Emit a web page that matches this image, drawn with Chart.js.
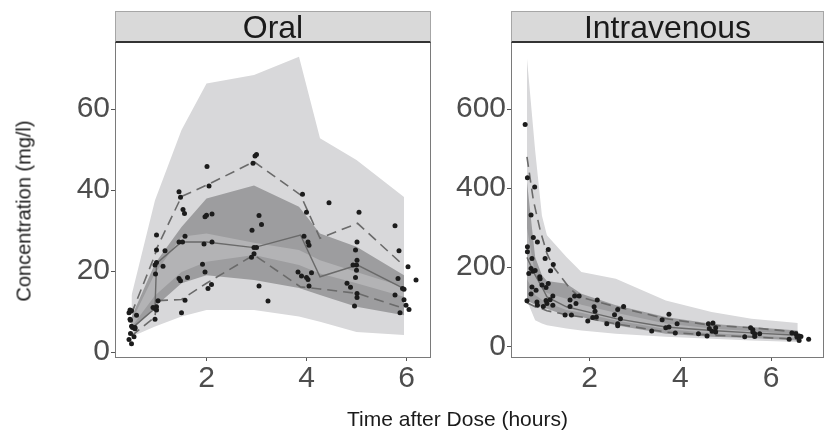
<!DOCTYPE html>
<html>
<head>
<meta charset="utf-8">
<script src="https://cdn.jsdelivr.net/npm/chart.js@4.4.0/dist/chart.umd.min.js"></script>
<style>
  body { margin: 0; width: 824px; height: 430px; overflow: hidden; position: relative; background: #fff;
         font-family: 'Liberation Sans', Arial, sans-serif; }
  canvas { position: absolute; top: 0; }
  .strip { position: absolute; top: 11px; height: 32px; box-sizing: border-box; background: #d9d9d9;
           border: 1px solid #a6a6a6; border-bottom: 2px solid #333; text-align: center;
           font-size: 32px; line-height: 30px; color: #1a1a1a; }
  .frame { position: absolute; top: 43px; height: 315px; box-sizing: border-box;
           border: 1px solid #7a7a7a; border-top: none; pointer-events: none; }
  .title { position: absolute; color: #1a1a1a; white-space: nowrap; }
</style>
</head>
<body>
<canvas id="oralChart" width="440" height="430" style="left:0"></canvas>
<canvas id="ivChart" width="384" height="430" style="left:440px"></canvas>
<div class="strip" style="left:115px;width:316px">Oral</div>
<div class="strip" style="left:511px;width:313px">Intravenous</div>
<div class="frame" style="left:115px;width:316px"></div>
<div class="frame" style="left:511px;width:313px"></div>
<div class="title" style="left:0;top:418px;width:915px;text-align:center;font-size:21px;line-height:21px;transform:translateY(-50%)">Time after Dose (hours)</div>
<div class="title" style="left:24px;top:211px;font-size:20px;transform:translate(-50%,-50%) rotate(-90deg)">Concentration (mg/l)</div>
<script>
// ---- Oral panel ----
const oralBinTimes   = [0.5, 0.97, 1.5, 2.0, 2.95, 3.85, 4.27, 5.0, 5.95];
const oralOuterHigh  = [14, 37.5, 54.8, 66.3, 68.4, 72.9, 52.8, 47.4, 38.3];
const oralOuterLow   = [3.8, 6.3, 8.8, 10.4, 10.4, 8.8, 7.5, 5.0, 4.2];
const oralDarkHigh   = [8.7, 21.9, 30.9, 37.9, 41.1, 35.9, 29.3, 26.0, 19.0];
const oralDarkLow    = [5.4, 11.2, 17.0, 19.0, 17.8, 15.8, 14.1, 11.2, 9.1];
const oralMidHigh    = [7.6, 19.5, 28.5, 29.3, 27.0, 25.2, 22.7, 19.8, 16.1];
const oralMidLow     = [6.2, 14.0, 19.8, 22.3, 24.0, 21.5, 19.4, 17.0, 13.7];

const oralObsTimes   = [0.5, 0.97, 1.0, 1.5, 2.0, 2.95, 3.88, 4.27, 5.02, 5.95];
const oralObsMedian  = [5.8, 10.8, 21.9, 27.2, 27.2, 25.8, 28.9, 18.6, 21.5, 15.7];
const oralObsHigh    = [9.5, 24.0, 25.5, 38.4, 41.2, 47.0, 38.8, 28.1, 31.8, 21.3];
const oralObsLow     = [4.0, 8.7, 12.7, 13.0, 17.0, 24.0, 16.1, 15.6, 14.5, 10.8];

const oralTime = [0.45, 0.5, 0.6, 0.48, 0.5, 0.52, 0.57, 0.48, 0.55, 0.45, 0.5, 0.47, 0.47, 0.57,
  1.0, 1.0, 1.17, 0.97, 1.0, 1.13, 0.98, 1.0, 0.93, 0.97, 1.0, 0.97, 1.03,
  1.45, 1.48, 1.53, 1.56, 1.45, 1.52, 1.57, 1.45, 1.48, 1.62, 1.57, 1.5,
  2.01, 2.05, 1.97, 2.0, 2.11, 1.95, 2.11, 1.92, 1.97, 2.1, 2.03,
  2.97, 3.0, 2.93, 3.05, 3.1, 2.91, 2.95, 3.0, 2.95, 2.9, 3.05, 3.23,
  3.92, 4.0, 4.45, 3.95, 4.03, 4.05, 3.83, 3.9, 4.0, 4.03, 4.1, 4.05,
  5.05, 5.01, 4.98, 5.01, 5.0, 4.93, 5.0, 4.98, 4.81, 4.88, 5.01, 5.01, 4.96,
  5.77, 5.85, 6.03, 6.19, 5.83, 5.92, 5.95, 5.77, 5.95, 5.99, 6.05, 5.87];
const oralConc = [9.7, 10.2, 9.1, 7.9, 6.4, 6.1, 6.1, 4.6, 3.8, 3.1, 2.1, 10.4, 8.1, 5.8,
  28.9, 25.2, 25.0, 21.5, 22.1, 21.2, 19.3, 11.2, 11.0, 10.8, 10.4, 8.1, 12.7,
  39.6, 38.2, 35.2, 34.2, 27.2, 27.2, 28.6, 18.2, 17.6, 18.4, 12.8, 9.7,
  45.8, 41.0, 33.4, 33.8, 34.1, 26.7, 27.2, 21.7, 19.8, 16.7, 15.7,
  48.4, 48.8, 46.6, 33.7, 31.5, 30.1, 25.8, 25.8, 24.3, 23.4, 16.3, 12.6,
  39.0, 34.5, 36.9, 28.6, 27.2, 26.4, 19.8, 18.8, 18.4, 17.9, 19.6, 16.3,
  34.5, 27.2, 25.2, 22.7, 21.5, 21.5, 20.2, 18.4, 17.0, 16.0, 14.5, 13.5, 11.4,
  31.2, 25.0, 21.1, 17.8, 18.2, 15.7, 15.5, 14.1, 12.9, 11.6, 10.5, 9.7];

// ---- Intravenous panel ----
const ivBinTimes   = [0.62, 0.8, 0.95, 1.06, 1.49, 1.82, 2.58, 3.68, 4.69, 5.57, 6.59];
const ivOuterHigh  = [728, 496, 330, 281, 226, 188, 171, 116, 87, 70, 59];
const ivOuterLow   = [116, 66, 58, 53, 45, 40, 32, 24, 19, 15, 11];
const ivDarkHigh   = [416, 226, 180, 165, 158, 133, 104, 74, 57, 49, 40];
const ivDarkLow    = [116, 105, 100, 95, 78, 74, 53, 32, 24, 21, 15];
const ivMidHigh    = [300, 180, 145, 135, 120, 105, 85, 58, 45, 38, 30];
const ivMidLow     = [170, 130, 118, 110, 92, 85, 65, 44, 33, 28, 21];

const ivObsMedian  = [225, 180, 150, 125, 100, 91, 70, 49, 40, 34, 28];
const ivObsLow     = [110, 100, 95, 90, 80, 74, 57, 36, 28, 24, 18];
const ivHighTimes  = [0.62, 0.76, 0.91, 1.06, 1.2, 1.57, 1.78, 2.58, 3.68, 4.69, 5.57, 6.59];
const ivObsHigh    = [479, 370, 294, 235, 201, 146, 125, 100, 70, 53, 47, 36];

const ivTime = [0.58, 0.63, 0.79, 0.71, 0.76, 0.85, 0.63, 0.63, 0.73, 0.66, 0.71, 0.75, 0.8, 0.9, 0.91,
  0.73, 0.71, 0.62, 0.82, 0.84, 0.85, 0.98, 0.95, 1.04, 1.09, 1.02, 1.09, 1.2, 1.14, 1.04, 1.06,
  1.19, 1.19, 1.13, 1.46, 1.57, 1.57, 1.6, 1.67, 1.7, 1.77, 1.96, 2.07, 2.15, 2.1, 2.12, 2.17,
  2.38, 2.55, 2.62, 2.62, 2.62, 2.68, 2.75, 3.37, 3.6, 3.68, 3.75, 3.75, 3.89, 3.93,
  4.4, 4.59, 4.62, 4.72, 4.64, 4.7, 4.78, 4.78, 5.42, 5.55, 5.6, 5.64, 5.64, 5.75, 5.6,
  6.4, 6.46, 6.55, 6.57, 6.62, 6.66, 6.62, 6.83];
const ivConc = [561, 426, 403, 332, 275, 264, 252, 239, 222, 184, 197, 190, 192, 176, 171,
  150, 132, 115, 142, 112, 104, 101, 155, 149, 159, 222, 245, 207, 191, 116, 108,
  104, 127, 118, 79, 101, 117, 79, 127, 108, 127, 64, 73, 74, 100, 89, 117,
  57, 80, 93, 57, 52, 70, 101, 39, 67, 47, 81, 49, 34, 57,
  32, 26, 57, 59, 45, 38, 47, 36, 24, 47, 42, 32, 25, 32, 36,
  18, 34, 32, 24, 26, 25, 15, 18];

const OUTER_FILL = '#d8d8da';
const DARK_FILL = '#9d9d9f';
const MID_FILL = '#b3b3b5';
const LINE_COLOR = '#6a6a6a';
const NONE = 'rgba(0,0,0,0)';

function toPoints(xs, ys) {
  return xs.map((x, i) => ({ x: x, y: ys[i] }));
}

function band(times, high, low, color, order) {
  return [
    { data: toPoints(times, high), fill: '+1', backgroundColor: color, borderColor: NONE,
      borderWidth: 0, pointRadius: 0, order: order },
    { data: toPoints(times, low), fill: false, borderColor: NONE,
      borderWidth: 0, pointRadius: 0, order: order }
  ];
}

function obsLine(times, values, dashed) {
  return { data: toPoints(times, values), fill: false, borderColor: LINE_COLOR,
    borderWidth: dashed ? 1.6 : 1.4, borderDash: dashed ? [10, 6] : [], pointRadius: 0, order: 1 };
}

function makeChart(id, cfg) {
  const datasets = [
    { data: toPoints(cfg.ptTime, cfg.ptConc), showLine: false, pointRadius: 2.5,
      pointBackgroundColor: '#1c1c1c', pointBorderWidth: 0, order: 0 },
    obsLine(cfg.obsTimes, cfg.median, false),
    obsLine(cfg.highTimes, cfg.high, true),
    obsLine(cfg.obsTimes, cfg.low, true),
    ...band(cfg.binTimes, cfg.midHigh, cfg.midLow, MID_FILL, 2),
    ...band(cfg.binTimes, cfg.darkHigh, cfg.darkLow, DARK_FILL, 3),
    ...band(cfg.binTimes, cfg.outerHigh, cfg.outerLow, OUTER_FILL, 4)
  ];
  const tickFont = { family: "'Liberation Sans', Arial, sans-serif", size: 30 };
  return new Chart(document.getElementById(id), {
    type: 'line',
    data: { datasets: datasets },
    options: {
      responsive: false,
      animation: false,
      devicePixelRatio: 1,
      layout: { padding: { top: 43, right: cfg.padRight, left: 0, bottom: 0 } },
      plugins: { legend: { display: false }, tooltip: { enabled: false } },
      scales: {
        x: {
          type: 'linear', min: cfg.xMin, max: cfg.xMax,
          afterBuildTicks: s => { s.ticks = [2, 4, 6].map(v => ({ value: v })); },
          afterFit: s => { s.height = 73; },
          grid: { drawOnChartArea: false, drawTicks: true, tickLength: 4, color: '#555' },
          border: { display: false },
          ticks: { font: tickFont, color: '#4d4d4d', padding: 0, maxRotation: 0 }
        },
        y: {
          type: 'linear', min: cfg.yMin, max: cfg.yMax,
          afterBuildTicks: s => { s.ticks = cfg.yTicks.map(v => ({ value: v })); },
          afterFit: s => { s.width = cfg.yWidth; },
          grid: { drawOnChartArea: false, drawTicks: true, tickLength: 5, color: '#555' },
          border: { display: false },
          ticks: { font: tickFont, color: '#4d4d4d', padding: 1 }
        }
      }
    }
  });
}

makeChart('oralChart', {
  ptTime: oralTime, ptConc: oralConc,
  obsTimes: oralObsTimes, highTimes: oralObsTimes,
  median: oralObsMedian, high: oralObsHigh, low: oralObsLow,
  binTimes: oralBinTimes,
  outerHigh: oralOuterHigh, outerLow: oralOuterLow,
  darkHigh: oralDarkHigh, darkLow: oralDarkLow,
  midHigh: oralMidHigh, midLow: oralMidLow,
  xMin: 0.19, xMax: 6.47, yMin: -1.2, yMax: 76.3, yTicks: [0, 20, 40, 60],
  yWidth: 116, padRight: 10
});

makeChart('ivChart', {
  ptTime: ivTime, ptConc: ivConc,
  obsTimes: ivBinTimes, highTimes: ivHighTimes,
  median: ivObsMedian, high: ivObsHigh, low: ivObsLow,
  binTimes: ivBinTimes,
  outerHigh: ivOuterHigh, outerLow: ivOuterLow,
  darkHigh: ivDarkHigh, darkLow: ivDarkLow,
  midHigh: ivMidHigh, midLow: ivMidLow,
  xMin: 0.29, xMax: 7.08, yMin: -27, yMax: 767, yTicks: [0, 200, 400, 600],
  yWidth: 72, padRight: 1
});
</script>
</body>
</html>
